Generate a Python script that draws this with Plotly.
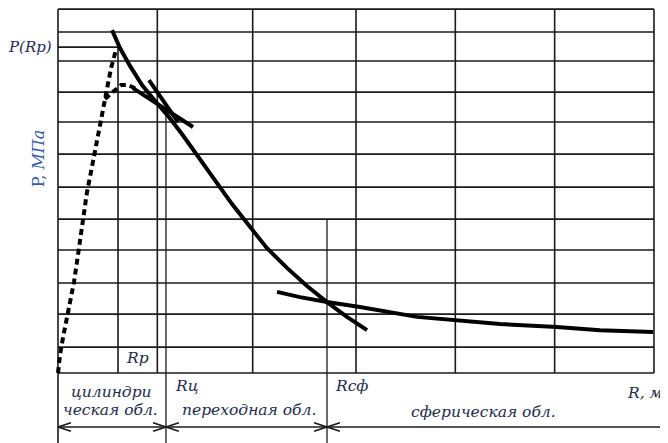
import plotly.graph_objects as go

# ---- data (R in grid-column units, P in grid-row units) ----
grid_R = [0, 1.0, 1.96, 3.0, 4.0, 5.0, 6.0]
grid_P = [0, 0.84, 1.91, 2.92, 3.99, 4.99, 6.03, 7.10, 8.14, 9.11, 10.12, 11.06, 11.8]
R_max, P_max = 6.0, 11.8

Rp, P_Rp = 0.604, 10.57
Rc, P_Rc = 1.087, 8.43
Rsph, P_Rsph = 2.708, 4.99

main_R = [0.544, 0.624, 0.725, 0.846, 0.977, 1.107, 1.248, 1.399, 1.581, 1.752,
          1.933, 2.104, 2.305, 2.507, 2.708, 2.909, 3.111]
main_P = [11.12, 10.54, 9.96, 9.34, 8.82, 8.34, 7.75, 7.07, 6.23, 5.48,
          4.74, 4.05, 3.41, 2.82, 2.30, 1.82, 1.39]

tanA_R = [0.755, 1.359]
tanA_P = [9.24, 7.98]
tanB_R = [0.916, 1.208]
tanB_P = [9.50, 8.14]

dash1_R = [0.0, 0.020, 0.050, 0.091, 0.121, 0.161, 0.191, 0.221, 0.252, 0.292,
           0.332, 0.372, 0.413, 0.453, 0.493, 0.534, 0.584]
dash1_P = [0.0, 0.58, 1.14, 1.78, 2.37, 2.95, 3.60, 4.31, 5.12, 5.87,
           6.52, 7.17, 7.82, 8.43, 9.24, 9.89, 10.48]
dash2_R = [0.473, 0.554, 0.634, 0.705, 0.795]
dash2_P = [8.89, 9.11, 9.34, 9.34, 9.21]

sph_R = [2.205, 2.436, 2.708, 3.040, 3.614, 4.017, 4.450, 5.024, 5.457, 5.990]
sph_P = [2.63, 2.46, 2.30, 2.14, 1.82, 1.72, 1.59, 1.49, 1.39, 1.33]

# layout extents (outside the grid); the page body adds an 8px offset
W, H = 660, 435
x_lo, x_hi = -50 / 99.33, (W - 50) / 99.33
y_lo, y_hi = -(H - 365) / 30.833, 365 / 30.833
dim_P = -1.75

GRID = "#1a1a1a"
INK = "#1f2a4d"

fig = go.Figure()

def add_line(xs, ys, width=1.6, color=GRID, dash=None):
    fig.add_trace(go.Scatter(x=xs, y=ys, mode="lines",
                             line=dict(color=color, width=width, dash=dash),
                             hoverinfo="skip", showlegend=False))

# grid
gx, gy = [], []
for r in grid_R:
    gx += [r, r, None]; gy += [0, P_max, None]
for p in grid_P:
    gx += [0, R_max, None]; gy += [p, p, None]
add_line(gx, gy)

# special lines
add_line([Rp, Rp], [0, P_Rp])
add_line([0, Rp], [P_Rp, P_Rp])
add_line([Rc, Rc], [y_lo, P_Rc], width=1.3)
add_line([Rsph, Rsph], [y_lo, P_Rsph], width=1.3)
add_line([0, 0], [y_lo, 0], width=1.6)

# dimension line with open arrows
add_line([0, x_hi], [dim_P, dim_P], width=1.6)
ax, ay = [], []
aw, ah = 0.13, 0.14
for a, b in [(0, Rc), (Rc, Rsph)]:
    ax += [a + aw, a, a + aw, None]; ay += [dim_P + ah, dim_P, dim_P - ah, None]
    ax += [b - aw, b, b - aw, None]; ay += [dim_P + ah, dim_P, dim_P - ah, None]
ax += [Rsph + aw, Rsph, Rsph + aw, None]; ay += [dim_P + ah, dim_P, dim_P - ah, None]
add_line(ax, ay, width=1.6)

# curves
add_line(dash1_R, dash1_P, width=4, color="black", dash="6px,4px")
add_line(dash2_R, dash2_P, width=4, color="black", dash="6px,4px")
add_line(main_R, main_P, width=4, color="black")
add_line(tanA_R, tanA_P, width=4, color="black")
add_line(tanB_R, tanB_P, width=4, color="black")
add_line(sph_R, sph_P, width=4, color="black")

FONT = dict(family="DejaVu Serif", size=15.5, color=INK)

def note(x, y, text, xanchor="center", **kw):
    fig.add_annotation(x=x, y=y, text=text, showarrow=False, xanchor=xanchor,
                       yanchor="middle", font=kw.pop("font", FONT), **kw)

note(-0.04, P_Rp, "<i>P(Rр)</i>", xanchor="right",
     font=dict(family="DejaVu Serif", size=15, color=INK))
note(-0.20, 6.97, "P, <i>МПа</i>", textangle=-90,
     font=dict(family="DejaVu Serif", size=16, color="#3b5ba5"))
note(0.805, 0.49, "<i>Rр</i>")
note(1.158, -0.42, "<i>Rц</i>", xanchor="left")
note(2.768, -0.42, "<i>Rсф</i>", xanchor="left")
note(x_hi - 0.04, -0.65, "<i>R, м</i>", xanchor="right")
note(0.534, -0.62, "<i>цилиндри</i>")
note(0.524, -1.20, "<i>ческая обл.</i>")
note(1.923, -1.20, "<i>переходная обл.</i>")
note(4.279, -1.26, "<i>сферическая обл.</i>")

fig.update_layout(
    width=W, height=H,
    margin=dict(l=0, r=0, t=0, b=0),
    paper_bgcolor="white", plot_bgcolor="white",
    showlegend=False,
    xaxis=dict(range=[x_lo, x_hi], visible=False, fixedrange=True),
    yaxis=dict(range=[y_lo, y_hi], visible=False, fixedrange=True),
)

fig.write_html("out.html")
